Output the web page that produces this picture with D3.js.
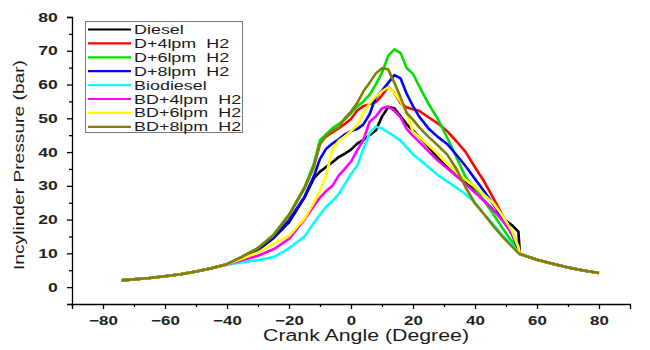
<!DOCTYPE html>
<html>
<head>
<meta charset="utf-8">
<script src="https://cdn.jsdelivr.net/npm/d3@7"></script>
<style>
  body { margin: 0; background: #fff; }
  svg text { font-family: "Liberation Sans", Arial, sans-serif; fill: #1a1a1a; }
</style>
</head>
<body>
<div id="chart"></div>
<script>
// crank angle grid (degree)
const angle = [-74, -65, -60, -55, -50, -45, -40, -35, -30, -25, -20, -15, -12, -10, -8, -6, -4, -2,
  0, 2, 4, 6, 8, 10, 12, 14, 16, 18, 20, 22, 25, 28, 31, 34, 37, 40, 43, 46, 49, 52, 54, 54.5,
  60, 65, 70, 75, 80];

// incylinder pressure (bar) per fuel
const diesel = [2.0, 2.7, 3.2, 3.8, 4.6, 5.6, 6.8, 8.8, 11.0, 14.5, 19.2, 26.5, 32.2, 34.2, 35.6, 37.0, 38.5, 39.5,
  40.7, 42.5, 43.6, 45.0, 46.4, 50.5, 53.3, 53.0, 50.6, 48.2, 46.4, 44.5, 41.5, 38.3, 35.5, 33.0, 30.8, 28.6, 25.5, 22.7, 20.3, 18.3, 16.4, 9.8,
  8.1, 6.9, 5.8, 4.9, 4.2];
const d4 = [2.0, 2.7, 3.2, 3.8, 4.6, 5.6, 6.8, 9.0, 11.5, 15.4, 21.3, 29.3, 36.0, 43.0, 44.6, 45.8, 47.0, 48.3,
  49.8, 52.3, 53.6, 54.2, 54.8, 56.8, 59.3, 57.5, 54.5, 53.2, 52.7, 52.2, 50.3, 48.5, 46.2, 43.2, 40.0, 35.5, 31.2, 26.2, 21.0, 16.3, 12.0, 9.8,
  8.1, 6.9, 5.8, 4.9, 4.2];
const d6 = [2.0, 2.7, 3.2, 3.8, 4.6, 5.6, 6.8, 9.1, 11.6, 15.5, 21.5, 29.5, 36.5, 43.5, 45.3, 47.0, 48.3, 49.6,
  51.5, 53.5, 55.0, 57.0, 60.0, 63.5, 68.5, 70.4, 69.3, 64.8, 63.2, 59.5, 54.3, 49.8, 44.3, 38.5, 32.5, 29.3, 25.5, 21.5, 17.3, 13.4, 10.4, 9.8,
  8.1, 6.9, 5.8, 4.9, 4.2];
const d8 = [2.0, 2.7, 3.2, 3.8, 4.6, 5.6, 6.8, 8.8, 11.2, 14.8, 19.8, 26.8, 32.8, 38.0, 41.0, 42.5, 43.8, 45.2,
  46.2, 46.8, 48.2, 51.2, 56.3, 58.2, 60.5, 62.8, 61.8, 57.2, 53.6, 50.5, 47.0, 44.5, 42.4, 39.2, 35.8, 32.0, 28.3, 24.5, 20.2, 15.5, 11.3, 9.8,
  8.1, 6.9, 5.8, 4.9, 4.2];
const biodiesel = [2.0, 2.7, 3.2, 3.8, 4.6, 5.6, 6.6, 7.4, 8.0, 8.9, 11.5, 15.0, 19.0, 21.5, 23.8, 25.5, 27.5, 30.5,
  33.5, 36.0, 41.0, 45.5, 47.5, 47.0, 45.8, 44.7, 43.4, 41.3, 39.3, 37.8, 35.5, 33.2, 31.3, 29.5, 27.5, 25.0, 21.5, 18.5, 15.2, 12.5, 10.3, 9.8,
  8.1, 6.9, 5.8, 4.9, 4.2];
const bd4 = [2.0, 2.7, 3.2, 3.8, 4.6, 5.6, 6.7, 8.0, 9.3, 11.2, 14.3, 20.0, 24.0, 26.5, 28.5, 30.0, 33.0, 35.0,
  37.2, 40.5, 43.6, 49.0, 50.5, 53.0, 53.5, 52.2, 50.3, 46.8, 44.8, 43.0, 40.2, 37.5, 35.2, 33.0, 30.5, 28.0, 25.5, 22.8, 19.5, 15.8, 12.0, 9.8,
  8.1, 6.9, 5.8, 4.9, 4.2];
const bd6 = [2.0, 2.7, 3.2, 3.8, 4.6, 5.6, 6.8, 8.5, 10.3, 12.8, 15.2, 20.3, 25.0, 28.5, 33.2, 40.8, 43.3, 44.6,
  46.2, 48.0, 51.5, 54.5, 56.5, 58.0, 59.2, 57.5, 55.0, 51.5, 46.0, 44.5, 42.0, 39.5, 36.6, 34.0, 31.8, 29.8, 27.3, 24.8, 21.0, 16.5, 11.8, 9.8,
  8.1, 6.9, 5.8, 4.9, 4.2];
const bd8 = [2.0, 2.7, 3.2, 3.8, 4.6, 5.6, 6.8, 9.0, 11.5, 15.3, 21.3, 29.3, 35.5, 42.3, 44.8, 46.3, 47.3, 50.0,
  52.0, 54.5, 58.0, 60.5, 63.3, 64.8, 64.5, 60.5, 56.2, 51.5, 49.6, 47.3, 44.5, 42.0, 39.3, 35.0, 29.5, 24.8, 21.5, 18.0, 14.8, 12.0, 10.1, 9.8,
  8.1, 6.9, 5.8, 4.9, 4.2];

const seriesNames = ["Diesel", "D+4lpm  H2", "D+6lpm  H2", "D+8lpm  H2", "Biodiesel", "BD+4lpm  H2", "BD+6lpm  H2", "BD+8lpm  H2"];
const seriesValues = [diesel, d4, d6, d8, biodiesel, bd4, bd6, bd8];
const seriesColors = ["#000000", "#ff0000", "#00e000", "#0000ff", "#00ffff", "#ff00ff", "#ffff00", "#808000"];

const xMajor = [-80, -60, -40, -20, 0, 20, 40, 60, 80];
const xMinor = [-90, -70, -50, -30, -10, 10, 30, 50, 70];
const yMajor = [0, 10, 20, 30, 40, 50, 60, 70, 80];
const yMinor = [-5, 5, 15, 25, 35, 45, 55, 65, 75];

const width = 650, height = 350;
const svg = d3.select("#chart").append("svg")
  .attr("width", width)
  .attr("height", height);

const x = d3.scaleLinear().domain([-90, 90]).range([72, 630]);
const y = d3.scaleLinear().domain([-5, 80]).range([304, 17]);

const fmt = d => d < 0 ? "\u2212" + Math.abs(d) : String(d);

// x axis
const gx = svg.append("g").attr("transform", `translate(0,${y(-5)})`);
gx.call(d3.axisBottom(x).tickValues(xMajor).tickSize(5).tickPadding(7).tickFormat(fmt));
gx.append("g").call(d3.axisBottom(x).tickValues(xMinor).tickSize(3).tickFormat(""))
  .select(".domain").remove();
gx.selectAll("text")
  .attr("transform", "scale(1.3,1)")
  .style("font-size", "13px").style("font-weight", "bold").style("fill", "#222");

// y axis
const gy = svg.append("g").attr("transform", `translate(${x(-90)},0)`);
gy.call(d3.axisLeft(y).tickValues(yMajor).tickSize(5).tickPadding(5).tickFormat(fmt));
gy.append("g").call(d3.axisLeft(y).tickValues(yMinor).tickSize(3).tickFormat(""))
  .select(".domain").remove();
gy.selectAll("text")
  .attr("x", -10.5)
  .attr("transform", "scale(1.35,1)")
  .style("font-size", "13px").style("font-weight", "bold").style("fill", "#222");

svg.selectAll(".domain, .tick line").attr("stroke", "#000").attr("stroke-width", 1.3);

// curves
const line = d3.line()
  .x((d, i) => x(angle[i]))
  .y(d => y(d));

svg.append("g").selectAll("path")
  .data(seriesValues)
  .enter().append("path")
  .attr("d", d => line(d))
  .attr("fill", "none")
  .attr("stroke", (d, i) => seriesColors[i])
  .attr("stroke-width", 2.6)
  .attr("stroke-linejoin", "round");

// legend
const legend = svg.append("g");
legend.append("rect")
  .attr("x", 85.5).attr("y", 21.5)
  .attr("width", 157).attr("height", 111)
  .attr("fill", "#fff").attr("stroke", "#777").attr("stroke-width", 1);

const row = legend.selectAll(".row")
  .data(seriesNames)
  .enter().append("g")
  .attr("class", "row")
  .attr("transform", (d, i) => `translate(0,${29.5 + i * 13.9})`);
row.append("line")
  .attr("x1", 88).attr("x2", 131)
  .attr("stroke", (d, i) => seriesColors[i])
  .attr("stroke-width", 2.2);
row.append("text")
  .attr("transform", "translate(134,4.5) scale(1.38,1)")
  .style("font-size", "13px")
  .style("white-space", "pre")
  .text(d => d);

// axis titles
svg.append("text")
  .attr("x", 366).attr("y", 341)
  .attr("text-anchor", "middle")
  .attr("textLength", 206).attr("lengthAdjust", "spacingAndGlyphs")
  .style("font-size", "16px")
  .text("Crank Angle (Degree)");

svg.append("text")
  .attr("transform", "translate(24,165) rotate(-90)")
  .attr("text-anchor", "middle")
  .attr("textLength", 210).attr("lengthAdjust", "spacingAndGlyphs")
  .style("font-size", "15px")
  .text("Incylinder Pressure (bar)");
</script>
</body>
</html>
